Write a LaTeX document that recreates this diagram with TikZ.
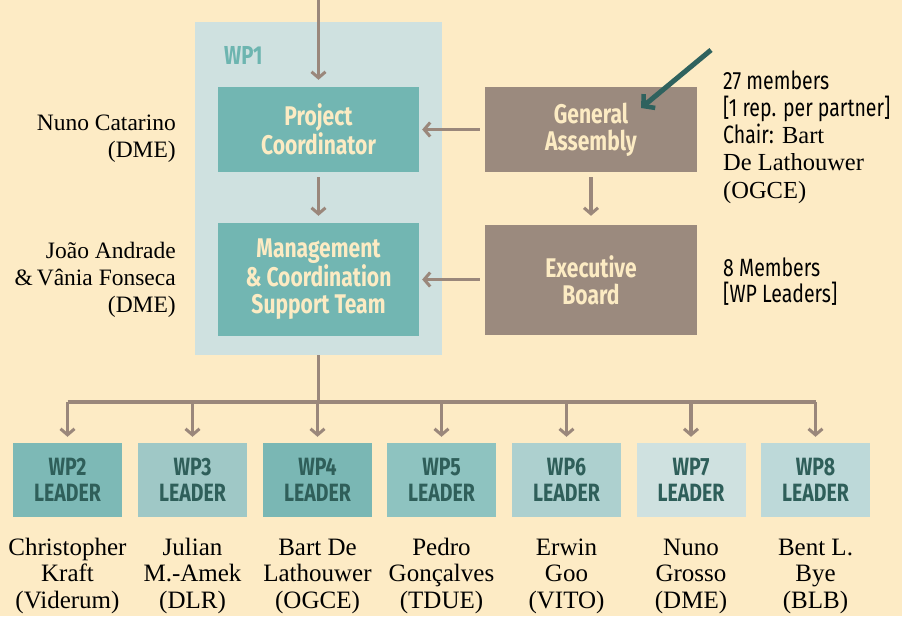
\documentclass[tikz,border=0pt]{standalone}
\usepackage{fontspec}
\setmainfont{Liberation Serif}
\newfontfamily\cond[FakeStretch=0.78]{Fira Sans}
\usetikzlibrary{arrows.meta}
\definecolor{bgc}{HTML}{FDEBC5}
\definecolor{panelc}{HTML}{CFE1E0}
\definecolor{tealc}{HTML}{72B6B2}
\definecolor{brownc}{HTML}{9B8A7E}
\definecolor{arrc}{HTML}{9A877B}
\definecolor{creamc}{HTML}{FCEBC3}
\definecolor{wplab}{HTML}{6DB5B0}
\definecolor{darkarr}{HTML}{2F625E}
\definecolor{leadtxt}{HTML}{2F5F5A}
\definecolor{wpa}{HTML}{7DB9B6}
\definecolor{wpb}{HTML}{9FC8C6}
\definecolor{wpc}{HTML}{7AB7B4}
\definecolor{wpd}{HTML}{8EC3C0}
\definecolor{wpe}{HTML}{ADD0CF}
\definecolor{wpf}{HTML}{CFE1E0}
\definecolor{wpg}{HTML}{BDD9D9}
\tikzset{
  mainbox/.style={inner sep=0pt, align=center, text=creamc,
    font=\cond\bfseries\fontsize{27}{27}\selectfont},
  tbox/.style={mainbox, fill=tealc, minimum width=201pt},
  bbox/.style={mainbox, fill=brownc, minimum width=212pt},
  leadbox/.style={inner sep=0pt, align=center, text=leadtxt, minimum width=109pt, minimum height=74pt,
    font=\cond\bfseries\fontsize{25}{26}\selectfont},
  conn/.style={draw=arrc, line width=3.5pt, -{Straight Barb[length=6pt,width=14pt,line width=3pt]}},
  serifl/.style={align=right, font=\fontsize{23.5}{27}\selectfont, inner sep=0pt},
  names/.style={align=center, font=\fontsize{25}{26.5}\selectfont, inner sep=0pt},
}
\begin{document}
\begin{tikzpicture}[x=1pt,y=-1pt]
\fill[bgc] (0,0) rectangle (902,616);
\useasboundingbox (0,0) rectangle (902,616);
% WP1 panel
\node[fill=panelc, minimum width=247pt, minimum height=333pt, inner sep=0pt] (panel) at (318.5,188.5) {};
\node[anchor=base west, inner sep=0pt, text=wplab, font=\cond\bfseries\fontsize{26}{26}\selectfont] (wp1) at (224,64) {WP1};
% main boxes
\node[tbox, minimum height=85pt] (pc) at (318.5,129.5) {Project\\Coordinator};
\node[tbox, minimum height=113pt] (mg) at (318.5,279.5) {Management\\\& Coordination\\Support Team};
\node[bbox, minimum height=85pt] (ga) at (591,129.5) {General\\Assembly};
\node[bbox, minimum height=110pt] (eb) at (591,280) {Executive\\Board};
% arrows
\coordinate (top) at (318.5,0);
\draw[conn, shorten >=7pt] (top) -- (pc.north);
\draw[conn, shorten <=5pt, shorten >=7pt] (pc.south) -- (mg.north);
\draw[conn, shorten <=5pt, shorten >=3pt] (ga.west) -- (pc.east);
\draw[conn, shorten <=5pt, shorten >=3pt] (eb.west |- mg.east) -- (mg.east);
\draw[conn, shorten <=5pt, shorten >=9pt] (ga.south) -- (eb.north);
% dark arrow
\coordinate (ds) at (711,50);
\coordinate (de) at (641,108);
\draw[draw=darkarr, line width=5pt, -{Straight Barb[length=8pt,width=18pt,line width=4.5pt]}] (ds) -- (de);
% right texts
\node[anchor=base west, align=left, inner sep=0pt, font=\fontsize{24.5}{27.2}\selectfont] (garight) at (723,198)
  {{\cond\fontsize{25}{27.2}\selectfont 27 members}\\{\cond\fontsize{25}{27.2}\selectfont [1 rep. per partner]}\\{\cond\fontsize{25}{27.2}\selectfont Chair:} Bart\\De Lathouwer\\(OGCE)};
\node[anchor=base west, align=left, inner sep=0pt, font=\cond\fontsize{25}{26}\selectfont] (ebright) at (723,302)
  {8 Members\\{[WP Leaders]}};
% left texts
\node[serifl, anchor=base east] (pcl) at (176,157) {Nuno Catarino\\(DME)};
\node[serifl, anchor=base east] (mgl) at (176,312) {João Andrade\\\&\,Vânia Fonseca\\(DME)};
% leader boxes
\node[leadbox, fill=wpa] (w2) at (67.5,480) {WP2\\LEADER};
\node[leadbox, fill=wpb] (w3) at (192.5,480) {WP3\\LEADER};
\node[leadbox, fill=wpc] (w4) at (317.5,480) {WP4\\LEADER};
\node[leadbox, fill=wpd] (w5) at (441.5,480) {WP5\\LEADER};
\node[leadbox, fill=wpe] (w6) at (566.5,480) {WP6\\LEADER};
\node[leadbox, fill=wpf] (w7) at (691,480) {WP7\\LEADER};
\node[leadbox, fill=wpg] (w8) at (815.5,480) {WP8\\LEADER};
% tree
\coordinate (hub) at (318.5,402);
\draw[draw=arrc, line width=3.5pt] (panel.south) -- (hub);
\draw[draw=arrc, line width=3.5pt] (w2.north |- hub) -- (w8.north |- hub);
\foreach \w in {w2,w3,w4,w5,w6,w7,w8}{
  \draw[conn, shorten >=6pt] (\w.north |- hub) -- (\w.north);
}
% names
\node[names, anchor=base] (n2) at (67.5,608) {Christopher\\Kraft\\(Viderum)};
\node[names, anchor=base] (n3) at (192.5,608) {Julian\\M.-Amek\\(DLR)};
\node[names, anchor=base] (n4) at (317.5,608) {Bart De\\Lathouwer\\(OGCE)};
\node[names, anchor=base] (n5) at (441.5,608) {Pedro\\Gonçalves\\(TDUE)};
\node[names, anchor=base] (n6) at (566.5,608) {Erwin\\Goo\\(VITO)};
\node[names, anchor=base] (n7) at (691,608) {Nuno\\Grosso\\(DME)};
\node[names, anchor=base] (n8) at (815.5,608) {Bent L.\\Bye\\(BLB)};
\end{tikzpicture}
\end{document}
